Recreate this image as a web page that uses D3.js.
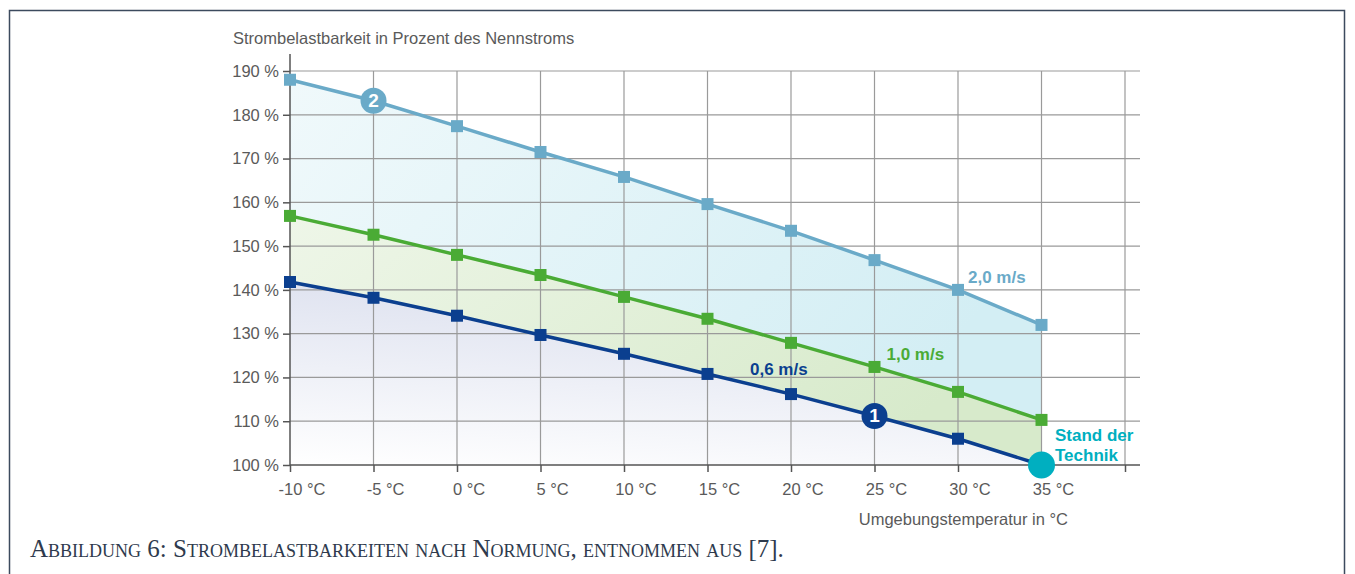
<!DOCTYPE html>
<html>
<head>
<meta charset="utf-8">
<script src="https://cdn.jsdelivr.net/npm/d3@7"></script>
<style>
  body { margin: 0; background: #fff; }
  svg { display: block; }
</style>
</head>
<body>
<script>
const width = 1355;
const height = 574;

const temps = [-10, -5, 0, 5, 10, 15, 20, 25, 30, 35];
const v20 = [188, 183.2, 177.4, 171.5, 165.8, 159.6, 153.5, 146.8, 140, 132];
const v10 = [156.9, 152.6, 148, 143.4, 138.4, 133.4, 127.9, 122.4, 116.7, 110.3];
const v06 = [141.8, 138.2, 134.1, 129.7, 125.4, 120.8, 116.2, 111.2, 106, 100];
const yTicks = [100, 110, 120, 130, 140, 150, 160, 170, 180, 190];
const xTicks = [-10, -5, 0, 5, 10, 15, 20, 25, 30, 35, 40];

const series = [
  { name: "2,0 m/s", values: v20, color: "#6aaac8", g0: "#f0f9fb", g1: "#d3eef4", badge: "2", badgeAt: 1, label: [30, 141.5], dx: 10 },
  { name: "1,0 m/s", values: v10, color: "#4aab35", g0: "#eef6e8", g1: "#d7eacb", label: [25, 124], dx: 12 },
  { name: "0,6 m/s", values: v06, color: "#0b3f8f", g0: "#dde1ef", g1: "#ffffff", badge: "1", badgeAt: 7, label: [20, 120.5], dx: -41 }
];

const x = d3.scaleLinear().domain([-10, 40]).range([290, 1125]);
const y = d3.scaleLinear().domain([100, 190]).range([465, 71]);

const font = "'Liberation Sans', Arial, sans-serif";

const svg = d3.select("body").append("svg")
  .attr("width", width)
  .attr("height", height)
  .style("font-family", font);

// page frame
svg.append("path")
  .attr("d", "M9.5,580 V10.5 H1344.5 V580")
  .attr("fill", "none")
  .attr("stroke", "#3c4a5e")
  .attr("stroke-width", 1.5);

const defs = svg.append("defs");
series.forEach((s, i) => {
  const g = defs.append("linearGradient").attr("id", "grad" + i);
  if (i === 2) {
    g.attr("x1", "0%").attr("y1", "100%").attr("x2", "30%").attr("y2", "0%");
    g.append("stop").attr("offset", "0%").attr("stop-color", s.g1);
    g.append("stop").attr("offset", "100%").attr("stop-color", s.g0);
  } else {
    g.attr("x1", "0%").attr("y1", "0%").attr("x2", "100%").attr("y2", "40%");
    g.append("stop").attr("offset", "0%").attr("stop-color", s.g0);
    g.append("stop").attr("offset", "100%").attr("stop-color", s.g1);
  }
});

// areas
const area = d3.area()
  .x((d, i) => x(temps[i]))
  .y0(y(100))
  .y1(d => y(d));

series.forEach((s, i) => {
  svg.append("path")
    .datum(s.values)
    .attr("d", area)
    .attr("fill", `url(#grad${i})`);
});

// grid
svg.append("g")
  .selectAll("line")
  .data(yTicks.slice(1))
  .join("line")
  .attr("x1", x(-10)).attr("x2", 1140)
  .attr("y1", d => y(d)).attr("y2", d => y(d))
  .attr("stroke", "#9a9a9a").attr("stroke-width", 1.2);

svg.append("g")
  .selectAll("line")
  .data(xTicks.slice(1))
  .join("line")
  .attr("x1", d => x(d)).attr("x2", d => x(d))
  .attr("y1", 71).attr("y2", y(100))
  .attr("stroke", "#9a9a9a").attr("stroke-width", 1.2);

// axes
const yAxis = svg.append("g")
  .attr("transform", `translate(${x(-10)},0)`)
  .call(d3.axisLeft(y).tickValues(yTicks).tickSize(7).tickPadding(4).tickFormat(d => d + " %"));
yAxis.select(".domain").attr("d", `M0,54V${y(100)}`);

const xAxis = svg.append("g")
  .attr("transform", `translate(0,${y(100)})`)
  .call(d3.axisBottom(x).tickValues(xTicks).tickSize(7).tickPadding(11).tickFormat(""));
xAxis.select(".domain").attr("d", `M${x(-10)},0H1140`);

[yAxis, xAxis].forEach(a => {
  a.select(".domain").attr("stroke", "#555").attr("stroke-width", 1.5);
  a.selectAll(".tick line").attr("stroke", "#555").attr("stroke-width", 1.5);
  a.selectAll("text").attr("fill", "#5a5a5a").style("font-size", "16.5px").style("font-family", font);
});

// x tick labels: number centred on the tick, unit trailing
xAxis.selectAll(".tick text").each(function(d) {
  if (d === 40) return;
  const t = d3.select(this).attr("text-anchor", "start");
  const num = t.append("tspan").text(d);
  t.append("tspan").text(" °C");
  t.attr("x", -num.node().getComputedTextLength() / 2);
});

// titles
svg.append("text")
  .attr("x", 233).attr("y", 44)
  .attr("fill", "#5a5a5a").style("font-size", "16.5px")
  .text("Strombelastbarkeit in Prozent des Nennstroms");

svg.append("text")
  .attr("x", 1068).attr("y", 525)
  .attr("text-anchor", "end")
  .attr("fill", "#5a5a5a").style("font-size", "16.5px")
  .text("Umgebungstemperatur in °C");

// lines and markers
const line = d3.line()
  .x((d, i) => x(temps[i]))
  .y(d => y(d));

series.forEach(s => {
  svg.append("path")
    .datum(s.values)
    .attr("d", line)
    .attr("fill", "none")
    .attr("stroke", s.color)
    .attr("stroke-width", 3.5);

  svg.append("g")
    .selectAll("rect")
    .data(s.values.map((v, i) => [temps[i], v]).filter((d, i) => i !== s.badgeAt && !(s.name === "0,6 m/s" && i === 9)))
    .join("rect")
    .attr("x", d => x(d[0]) - 6)
    .attr("y", d => y(d[1]) - 6)
    .attr("width", 12).attr("height", 12)
    .attr("fill", s.color);

  svg.append("text")
    .attr("x", x(s.label[0]) + s.dx)
    .attr("y", y(s.label[1]))
    .attr("fill", s.color)
    .style("font-size", "17px").style("font-weight", "bold")
    .text(s.name);

  if (s.badge) {
    const bx = x(temps[s.badgeAt]);
    const by = y(s.values[s.badgeAt]);
    svg.append("circle").attr("cx", bx).attr("cy", by).attr("r", 13).attr("fill", s.color);
    svg.append("text")
      .attr("x", bx).attr("y", by + 6.5)
      .attr("text-anchor", "middle")
      .attr("fill", "#fff")
      .style("font-size", "19px").style("font-weight", "bold")
      .text(s.badge);
  }
});

// Stand der Technik
svg.append("circle")
  .attr("cx", x(35)).attr("cy", y(100)).attr("r", 13.5)
  .attr("fill", "#00afc0");
svg.append("text")
  .attr("x", 1055).attr("y", 441)
  .attr("fill", "#00afc0")
  .style("font-size", "17px").style("font-weight", "bold")
  .selectAll("tspan")
  .data(["Stand der", "Technik"])
  .join("tspan")
  .attr("x", 1055)
  .attr("dy", (d, i) => i === 0 ? 0 : 20)
  .text(d => d);

// caption
svg.append("text")
  .attr("x", 30).attr("y", 557)
  .attr("fill", "#2e3a4d")
  .style("font-family", "'Liberation Serif', 'Times New Roman', serif")
  .style("font-size", "25px")
  .style("font-variant", "small-caps")
  .text("Abbildung 6: Strombelastbarkeiten nach Normung, entnommen aus [7].");
</script>
</body>
</html>
